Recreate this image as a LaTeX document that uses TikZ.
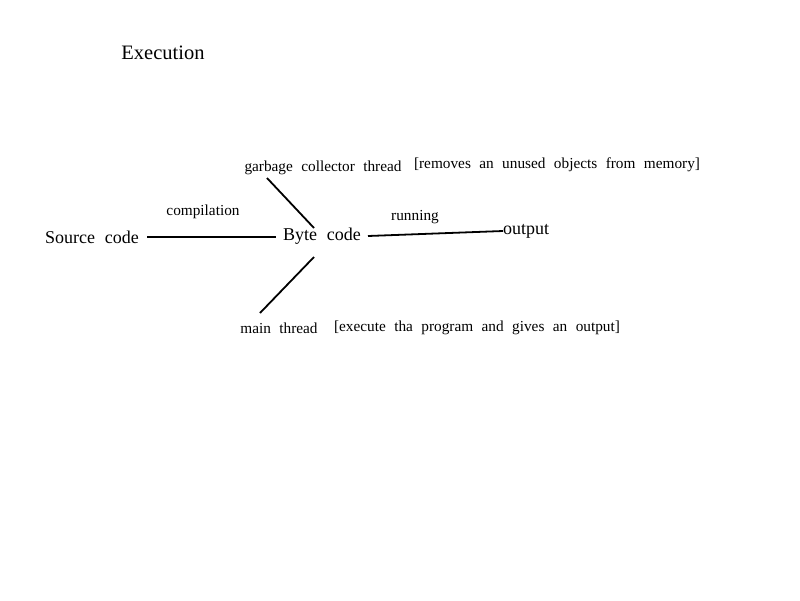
\documentclass[tikz,border=0pt]{standalone}
\usepackage{fontspec}
\setmainfont{Liberation Serif}[WordSpace=2.2]
\begin{document}
\begin{tikzpicture}[x=1pt,y=-1pt,
  lbl/.style={inner sep=0pt, font=\fontsize{15.3}{17}\selectfont},
  big/.style={inner sep=0pt, font=\fontsize{18}{21}\selectfont},
  conn/.style={line width=1.8pt}]
\useasboundingbox (0,0) rectangle (800,600);
\node[inner sep=0pt, font=\fontsize{20.5}{24}\selectfont] (title) at (163,53) {Execution};
\node[big] (src) at (92,237) {Source code};
\node[big] (byte) at (322,236) {Byte code};
\node[big, anchor=west] (out) at (503,231) {output};
\node[lbl] (comp) at (203,212) {compilation};
\node[lbl] (run) at (415,217) {running};
\node[lbl] (gc) at (323,168) {garbage collector thread};
\node[lbl] (gcd) at (557,165) {[removes an unused objects from memory]};
\node[lbl] (mt) at (279,328) {main thread};
\node[lbl] (mtd) at (477,328) {[execute tha program and gives an output]};
\coordinate (gcend) at (267,178);
\coordinate (btop) at (314,228);
\coordinate (bbot) at (314,257);
\coordinate (mtend) at (260,313);
\draw[conn] (147,237) coordinate (a1) -- (276,237) coordinate (a2);
\draw[conn] (368,236) coordinate (b1) -- (out.west);
\draw[conn] (gcend) -- (btop);
\draw[conn] (bbot) -- (mtend);
\end{tikzpicture}
\end{document}
